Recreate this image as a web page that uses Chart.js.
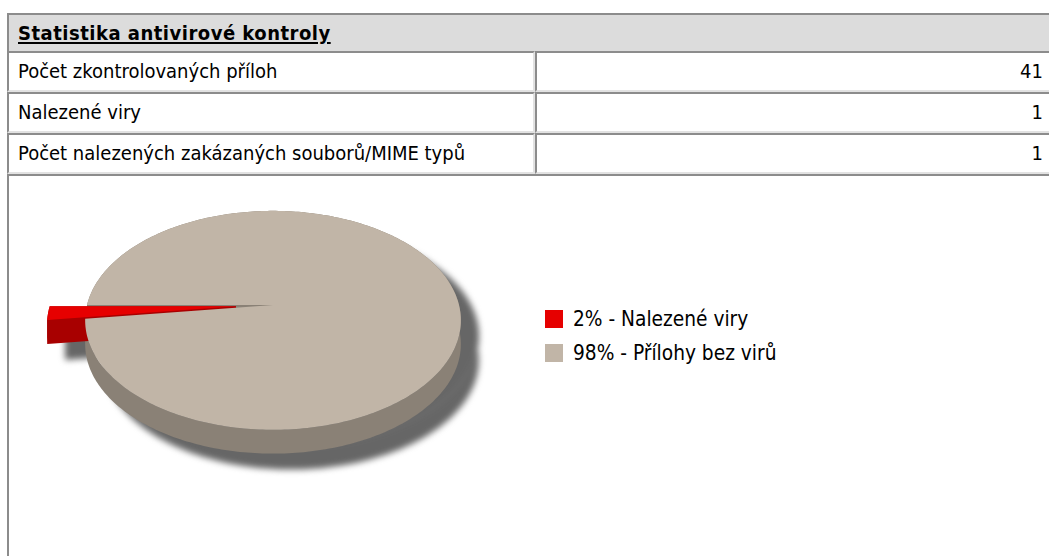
<!DOCTYPE html>
<html lang="cs">
<head>
<meta charset="utf-8">
<title>Statistika antivirové kontroly</title>
<script src="https://cdn.jsdelivr.net/npm/chart.js@4/dist/chart.umd.min.js"></script>
<style>
  html, body { margin: 0; padding: 0; background: #fff; width: 1049px; height: 556px; overflow: hidden; }
  body {
    position: relative;
    font-family: "DejaVu Sans Condensed", "DejaVu Sans", sans-serif;
    font-stretch: condensed;
    font-size: 20px;
    color: #000;
  }
  table.stats {
    position: absolute; left: 7px; top: 13px;
    width: 1046px; table-layout: fixed;
    border-collapse: separate; border-spacing: 0;
  }
  table.stats th, table.stats td { padding: 0; text-align: left; white-space: nowrap; overflow: hidden; vertical-align: top; }
  table.stats th {
    background: #dcdcdc;
    border-top: 2px solid #8c8c8c; border-left: 2px solid #8c8c8c;
  }
  table.stats th .in { height: 36px; line-height: 36px; padding-left: 9px; font-weight: bold; letter-spacing: 0.5px; text-decoration: underline; text-underline-offset: 2px; }
  table.stats td {
    border-top: 2px solid #8c8c8c; border-left: 2px solid #8c8c8c;
    border-bottom: 2px solid #e2e2e2; border-right: 2px solid #e2e2e2;
  }
  table.stats td .in { height: 37px; line-height: 37px; padding-left: 9px; }
  table.stats td.num .in { padding-left: 0; padding-right: 8px; text-align: right; }
  table.stats td.chartcell { border-bottom: none; border-right: none; }
  .chartwrap { position: relative; height: 380px; }
  #pieBox { position: absolute; left: 0; top: 0; width: 528px; height: 380px; }
  #legend { position: absolute; left: 536px; top: 134px; font-size: 20.7px; }
  #legend .item { display: flex; align-items: center; height: 18px; margin-bottom: 16px; white-space: nowrap; }
  #legend .box { display: inline-block; width: 18px; height: 18px; margin-right: 10px; }
</style>
</head>
<body>
<table class="stats">
  <colgroup><col style="width:528px"><col style="width:518px"></colgroup>
  <tbody id="statBody">
    <tr><th colspan="2"><div class="in">Statistika antivirové kontroly</div></th></tr>
    <tr id="chartRow">
      <td colspan="2" class="chartcell">
        <div class="chartwrap">
          <div id="pieBox"><canvas id="pie"></canvas></div>
          <div id="legend"></div>
        </div>
      </td>
    </tr>
  </tbody>
</table>

<script>
// Summary rows of the scan
const statLabels = [
  'Počet zkontrolovaných příloh',
  'Nalezené viry',
  'Počet nalezených zakázaných souborů/MIME typů'
];
const statValues = [41, 1, 1];

// Pie slices (percent of scanned attachments)
const sliceLabels = ['Nalezené viry', 'Přílohy bez virů'];
const slicePercents = [2, 98];

// Slice colours: top surface and darker side walls
const sliceTopColors = ['#e60000', '#c1b5a7'];
const sliceSideColors = ['#a80000', '#8a8176'];

// Build the table rows
const body = document.getElementById('statBody');
const chartRow = document.getElementById('chartRow');
statLabels.forEach((label, i) => {
  const tr = document.createElement('tr');
  const a = document.createElement('td');
  a.innerHTML = '<div class="in"></div>';
  a.firstChild.textContent = label;
  const b = document.createElement('td');
  b.className = 'num';
  b.innerHTML = '<div class="in"></div>';
  b.firstChild.textContent = String(statValues[i]);
  tr.appendChild(a); tr.appendChild(b);
  body.insertBefore(tr, chartRow);
});

// 3D pie renderer: takes the arcs laid out by the pie controller and
// projects them onto a tilted disc seen in perspective, with side walls
// and a soft drop shadow.
const pie3d = {
  id: 'pie3d',
  beforeDatasetsDraw(chart, args, opts) {
    const meta = chart.getDatasetMeta(0);
    const arcs = meta.data;
    if (!arcs.length) return false;
    const ctx = chart.ctx;

    const project = (el, u, v, z) => {
      const R = el.outerRadius;
      const w = 1 - opts.perspective * v;
      return [el.x + R * u / w, el.y + R * opts.tilt * v / w + R * opts.depth * z];
    };

    const faces = arcs.map((el, i) => {
      const R = el.outerRadius;
      const a0 = el.startAngle, a1 = el.endAngle;
      const half = (a0 + a1) / 2;
      const off = (el.options.offset || 0) / R;
      const cu = Math.cos(half) * off, cv = Math.sin(half) * off;
      const n = Math.max(4, Math.ceil((a1 - a0) / (Math.PI / 180)));
      const top = [], bot = [];
      for (let k = 0; k <= n; k++) {
        const a = a0 + (a1 - a0) * k / n;
        const u = cu + Math.cos(a), v = cv + Math.sin(a);
        top.push(project(el, u, v, 0));
        bot.push(project(el, u, v, 1));
      }
      const tipT = project(el, cu, cv, 0), tipB = project(el, cu, cv, 1);
      const full = (a1 - a0) >= Math.PI * 2 - 1e-6;
      return {
        index: i,
        order: Math.sin(half) + cv,
        top: full ? top : [tipT].concat(top),
        rim: top.concat(bot.slice().reverse()),
        cutA: full ? null : [tipT, top[0], bot[0], tipB],
        cutB: full ? null : [tipT, top[n], bot[n], tipB]
      };
    }).sort((p, q) => p.order - q.order);

    const poly = (c, pts) => {
      c.beginPath();
      c.moveTo(pts[0][0], pts[0][1]);
      for (let k = 1; k < pts.length; k++) c.lineTo(pts[k][0], pts[k][1]);
      c.closePath();
      c.fill();
    };

    // drop shadow of the whole silhouette
    const dpr = chart.currentDevicePixelRatio || 1;
    const sh = document.createElement('canvas');
    sh.width = chart.canvas.width; sh.height = chart.canvas.height;
    const sctx = sh.getContext('2d');
    sctx.scale(dpr, dpr);
    sctx.fillStyle = opts.shadowColor;
    faces.forEach(f => [f.top, f.rim, f.cutA, f.cutB].forEach(p => { if (p) poly(sctx, p); }));
    ctx.save();
    ctx.filter = 'blur(' + opts.shadowBlur + 'px)';
    ctx.drawImage(sh, opts.shadowX, opts.shadowY, chart.width, chart.height);
    ctx.restore();

    // side walls, back to front
    ctx.save();
    faces.forEach(f => {
      ctx.fillStyle = opts.sideColors[f.index];
      poly(ctx, f.rim);
      if (f.cutA) poly(ctx, f.cutA);
      if (f.cutB) poly(ctx, f.cutB);
    });
    // top surfaces
    faces.forEach(f => {
      ctx.fillStyle = arcs[f.index].options.backgroundColor;
      poly(ctx, f.top);
    });
    ctx.restore();
    return false;
  }
};

const chart = new Chart(document.getElementById('pie'), {
  type: 'pie',
  data: {
    labels: sliceLabels,
    datasets: [{
      data: slicePercents,
      backgroundColor: sliceTopColors,
      borderWidth: 0,
      offset: [37, 0]
    }]
  },
  options: {
    responsive: true,
    maintainAspectRatio: false,
    animation: false,
    events: [],
    radius: 186,
    // the first slice ends at nine o'clock
    rotation: 270 - 360 * slicePercents[0] / slicePercents.reduce((s, v) => s + v, 0),
    layout: { padding: { top: 0, left: 0, right: 0, bottom: 122 } },
    plugins: {
      legend: { display: false },
      tooltip: { enabled: false },
      pie3d: {
        tilt: 0.577,
        perspective: 0.14,
        depth: 0.128,
        sideColors: sliceSideColors,
        shadowColor: '#666666',
        shadowX: 18,
        shadowY: 16,
        shadowBlur: 3
      }
    }
  },
  plugins: [pie3d]
});

// Legend built from the chart's own data
(function renderLegend() {
  const ds = chart.data.datasets[0];
  const total = ds.data.reduce((s, v) => s + v, 0);
  const box = document.getElementById('legend');
  chart.data.labels.forEach((label, i) => {
    const item = document.createElement('div');
    item.className = 'item';
    const sw = document.createElement('span');
    sw.className = 'box';
    sw.style.background = ds.backgroundColor[i];
    const txt = document.createElement('span');
    txt.textContent = Math.round(ds.data[i] / total * 100) + '% - ' + label;
    item.appendChild(sw); item.appendChild(txt);
    box.appendChild(item);
  });
})();
</script>
</body>
</html>
